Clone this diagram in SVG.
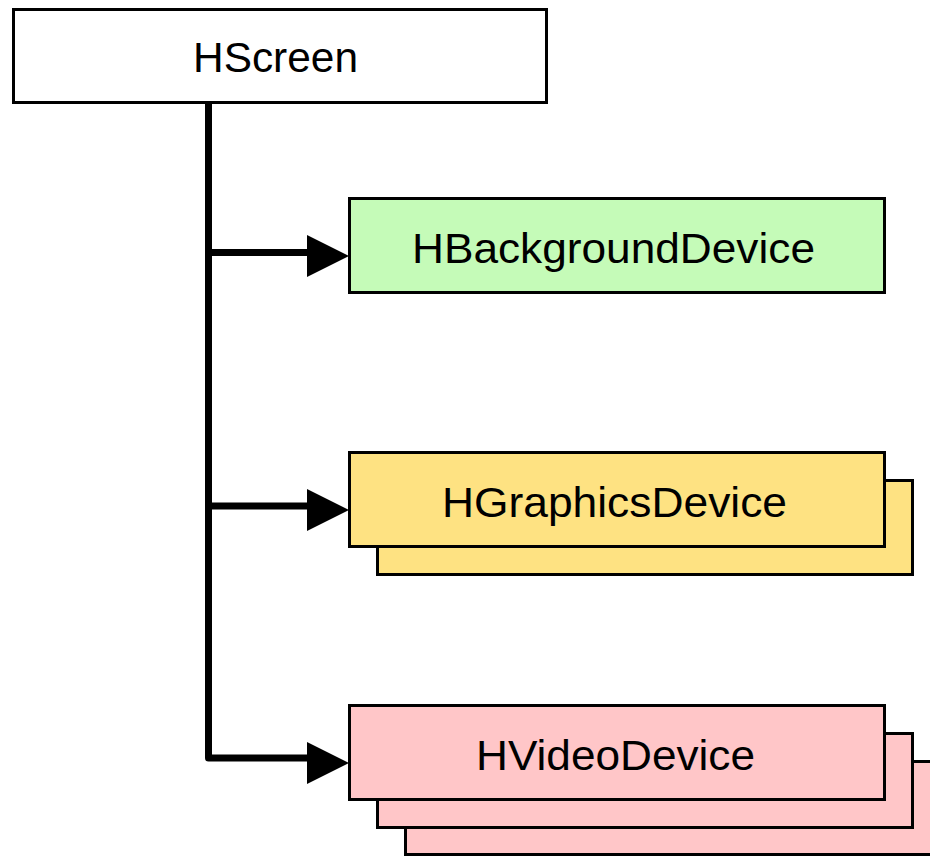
<svg xmlns="http://www.w3.org/2000/svg" width="930" height="856" viewBox="0 0 930 856">
  <style>
    .box { stroke: #000; stroke-width: 3; }
    .lbl { font-family: "Liberation Sans", Arial, sans-serif; font-size: 43px; fill: #000; }
    .conn { stroke: #000; stroke-width: 7; fill: none; stroke-linejoin: round; }
    .head { fill: #000; }
  </style>
  <rect width="930" height="856" fill="#fff"/>
  <g id="connectors">
    <path class="conn" d="M208.5,104 V758 H310"/>
    <path class="conn" d="M208.5,252.5 H310"/>
    <path class="conn" d="M208.5,506 H310"/>
    <polygon class="head" points="307,235 349,256 307,277"/>
    <polygon class="head" points="307,489 349,510 307,531"/>
    <polygon class="head" points="307,742 349,763 307,784"/>
  </g>
  <g id="HScreen">
    <rect class="box" x="13.5" y="9.5" width="533" height="93" fill="#fff"/>
    <text class="lbl" x="193" y="72" textLength="165" lengthAdjust="spacingAndGlyphs">HScreen</text>
  </g>
  <g id="HBackgroundDevice">
    <rect class="box" x="349.5" y="198.5" width="535" height="94" fill="#c5fbb8"/>
    <text class="lbl" x="412" y="263" textLength="403" lengthAdjust="spacingAndGlyphs">HBackgroundDevice</text>
  </g>
  <g id="HGraphicsDevice">
    <rect class="box" x="377.5" y="480.5" width="535" height="94" fill="#fee282"/>
    <rect class="box" x="349.5" y="452.5" width="535" height="94" fill="#fee282"/>
    <text class="lbl" x="442" y="517" textLength="345" lengthAdjust="spacingAndGlyphs">HGraphicsDevice</text>
  </g>
  <g id="HVideoDevice">
    <rect class="box" x="405.5" y="761.5" width="535" height="93" fill="#ffc6c8"/>
    <rect class="box" x="377.5" y="733.5" width="535" height="94" fill="#ffc6c8"/>
    <rect class="box" x="349.5" y="705.5" width="535" height="94" fill="#ffc6c8"/>
    <text class="lbl" x="476" y="770" textLength="279" lengthAdjust="spacingAndGlyphs">HVideoDevice</text>
  </g>
</svg>
